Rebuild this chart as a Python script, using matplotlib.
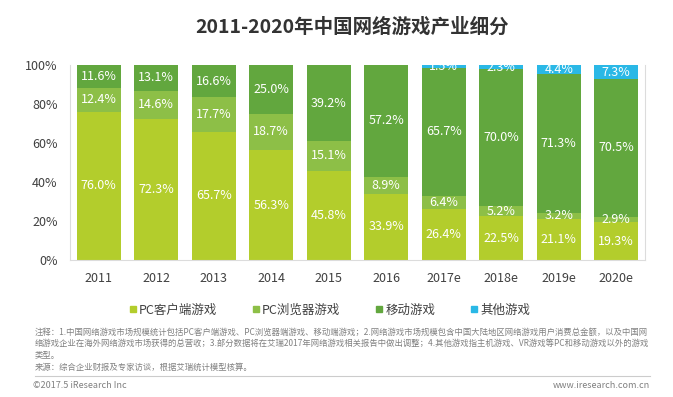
import matplotlib
matplotlib.use("Agg")
import matplotlib.pyplot as plt
from matplotlib.lines import Line2D
import numpy as np

plt.rcParams['font.family'] = ['Noto Sans CJK SC', 'DejaVu Sans']

# data (percent share)
years = ['2011', '2012', '2013', '2014', '2015', '2016', '2017e', '2018e', '2019e', '2020e']
pc_client = [76.0, 72.3, 65.7, 56.3, 45.8, 33.9, 26.4, 22.5, 21.1, 19.3]
pc_browser = [12.4, 14.6, 17.7, 18.7, 15.1, 8.9, 6.4, 5.2, 3.2, 2.9]
mobile = [11.6, 13.1, 16.6, 25.0, 39.2, 57.2, 65.7, 70.0, 71.3, 70.5]
other = [0, 0, 0, 0, 0, 0, 1.5, 2.3, 4.4, 7.3]
series_names = ['PC客户端游戏', 'PC浏览器游戏', '移动游戏', '其他游戏']
y_ticks = [0, 20, 40, 60, 80, 100]

colors = ['#b3cd2c', '#8dbf47', '#62a73e', '#2ab8e6']

fig = plt.figure(figsize=(6.73, 3.97), dpi=100)
ax = fig.add_axes([70 / 673, 1 - 260 / 397, 575 / 673, 195 / 397])

x = np.arange(len(years))
bottom = np.zeros(len(years))
for vals, col in zip([pc_client, pc_browser, mobile, other], colors):
    vals = np.array(vals, dtype=float)
    ax.bar(x, vals, bottom=bottom, width=0.77, color=col, zorder=2)
    for xi, b, v in zip(x, bottom, vals):
        if v > 0:
            ax.text(xi, b + v / 2, f'{v:.1f}%', ha='center', va='center',
                    color='white', fontsize=9, clip_on=True, zorder=3)
    bottom += vals

ax.set_xlim(-0.5, len(years) - 0.5)
ax.set_ylim(0, 100)
ax.set_xticks(x)
ax.set_xticklabels(years)
ax.set_yticks(y_ticks)
ax.set_yticklabels([f'{t}%' for t in y_ticks])
ax.tick_params(axis='both', length=0, labelsize=9, colors='#404040')
ax.tick_params(axis='y', pad=9)
ax.tick_params(axis='x', pad=9)
for s in ax.spines.values():
    s.set_color('#dcdcdc')
    s.set_linewidth(0.8)
ax.spines['top'].set_visible(False)

fig.text(352 / 673, 1 - 27 / 397, '2011-2020年中国网络游戏产业细分', ha='center', va='center',
         fontsize=14, fontweight='bold', color='#333333')

handles = [Line2D([], [], marker='s', linestyle='none', markersize=5,
                  markerfacecolor=c, markeredgecolor=c) for c in colors]
fig.legend(handles, series_names, loc='center', bbox_to_anchor=(329 / 673, 1 - 310 / 397),
           ncol=4, frameon=False, fontsize=9, handletextpad=0.1, columnspacing=2.7,
           handlelength=0.8, labelcolor='#404040')

notes = ['注释：1.中国网络游戏市场规模统计包括PC客户端游戏、PC浏览器端游戏、移动端游戏；2.网络游戏市场规模包含中国大陆地区网络游戏用户消费总金额，以及中国网',
         '络游戏企业在海外网络游戏市场获得的总营收；3.部分数据将在艾瑞2017年网络游戏相关报告中做出调整；4.其他游戏指主机游戏、VR游戏等PC和移动游戏以外的游戏',
         '类型。',
         '来源：综合企业财报及专家访谈，根据艾瑞统计模型核算。']
for i, line in enumerate(notes):
    fig.text(35 / 673, 1 - (332 + i * 11.7) / 397, line, ha='left', va='center',
             fontsize=6, color='#808080')

fig.add_artist(Line2D([35 / 673, 650 / 673], [1 - 376 / 397, 1 - 376 / 397],
                      color='#cccccc', linewidth=0.8))
fig.text(33 / 673, 1 - 385 / 397, '©2017.5 iResearch Inc', ha='left', va='center',
         fontsize=6.5, color='#808080')
fig.text(650 / 673, 1 - 385 / 397, 'www.iresearch.com.cn', ha='right', va='center',
         fontsize=6.5, color='#808080')

fig.savefig('out.png', dpi=100)
